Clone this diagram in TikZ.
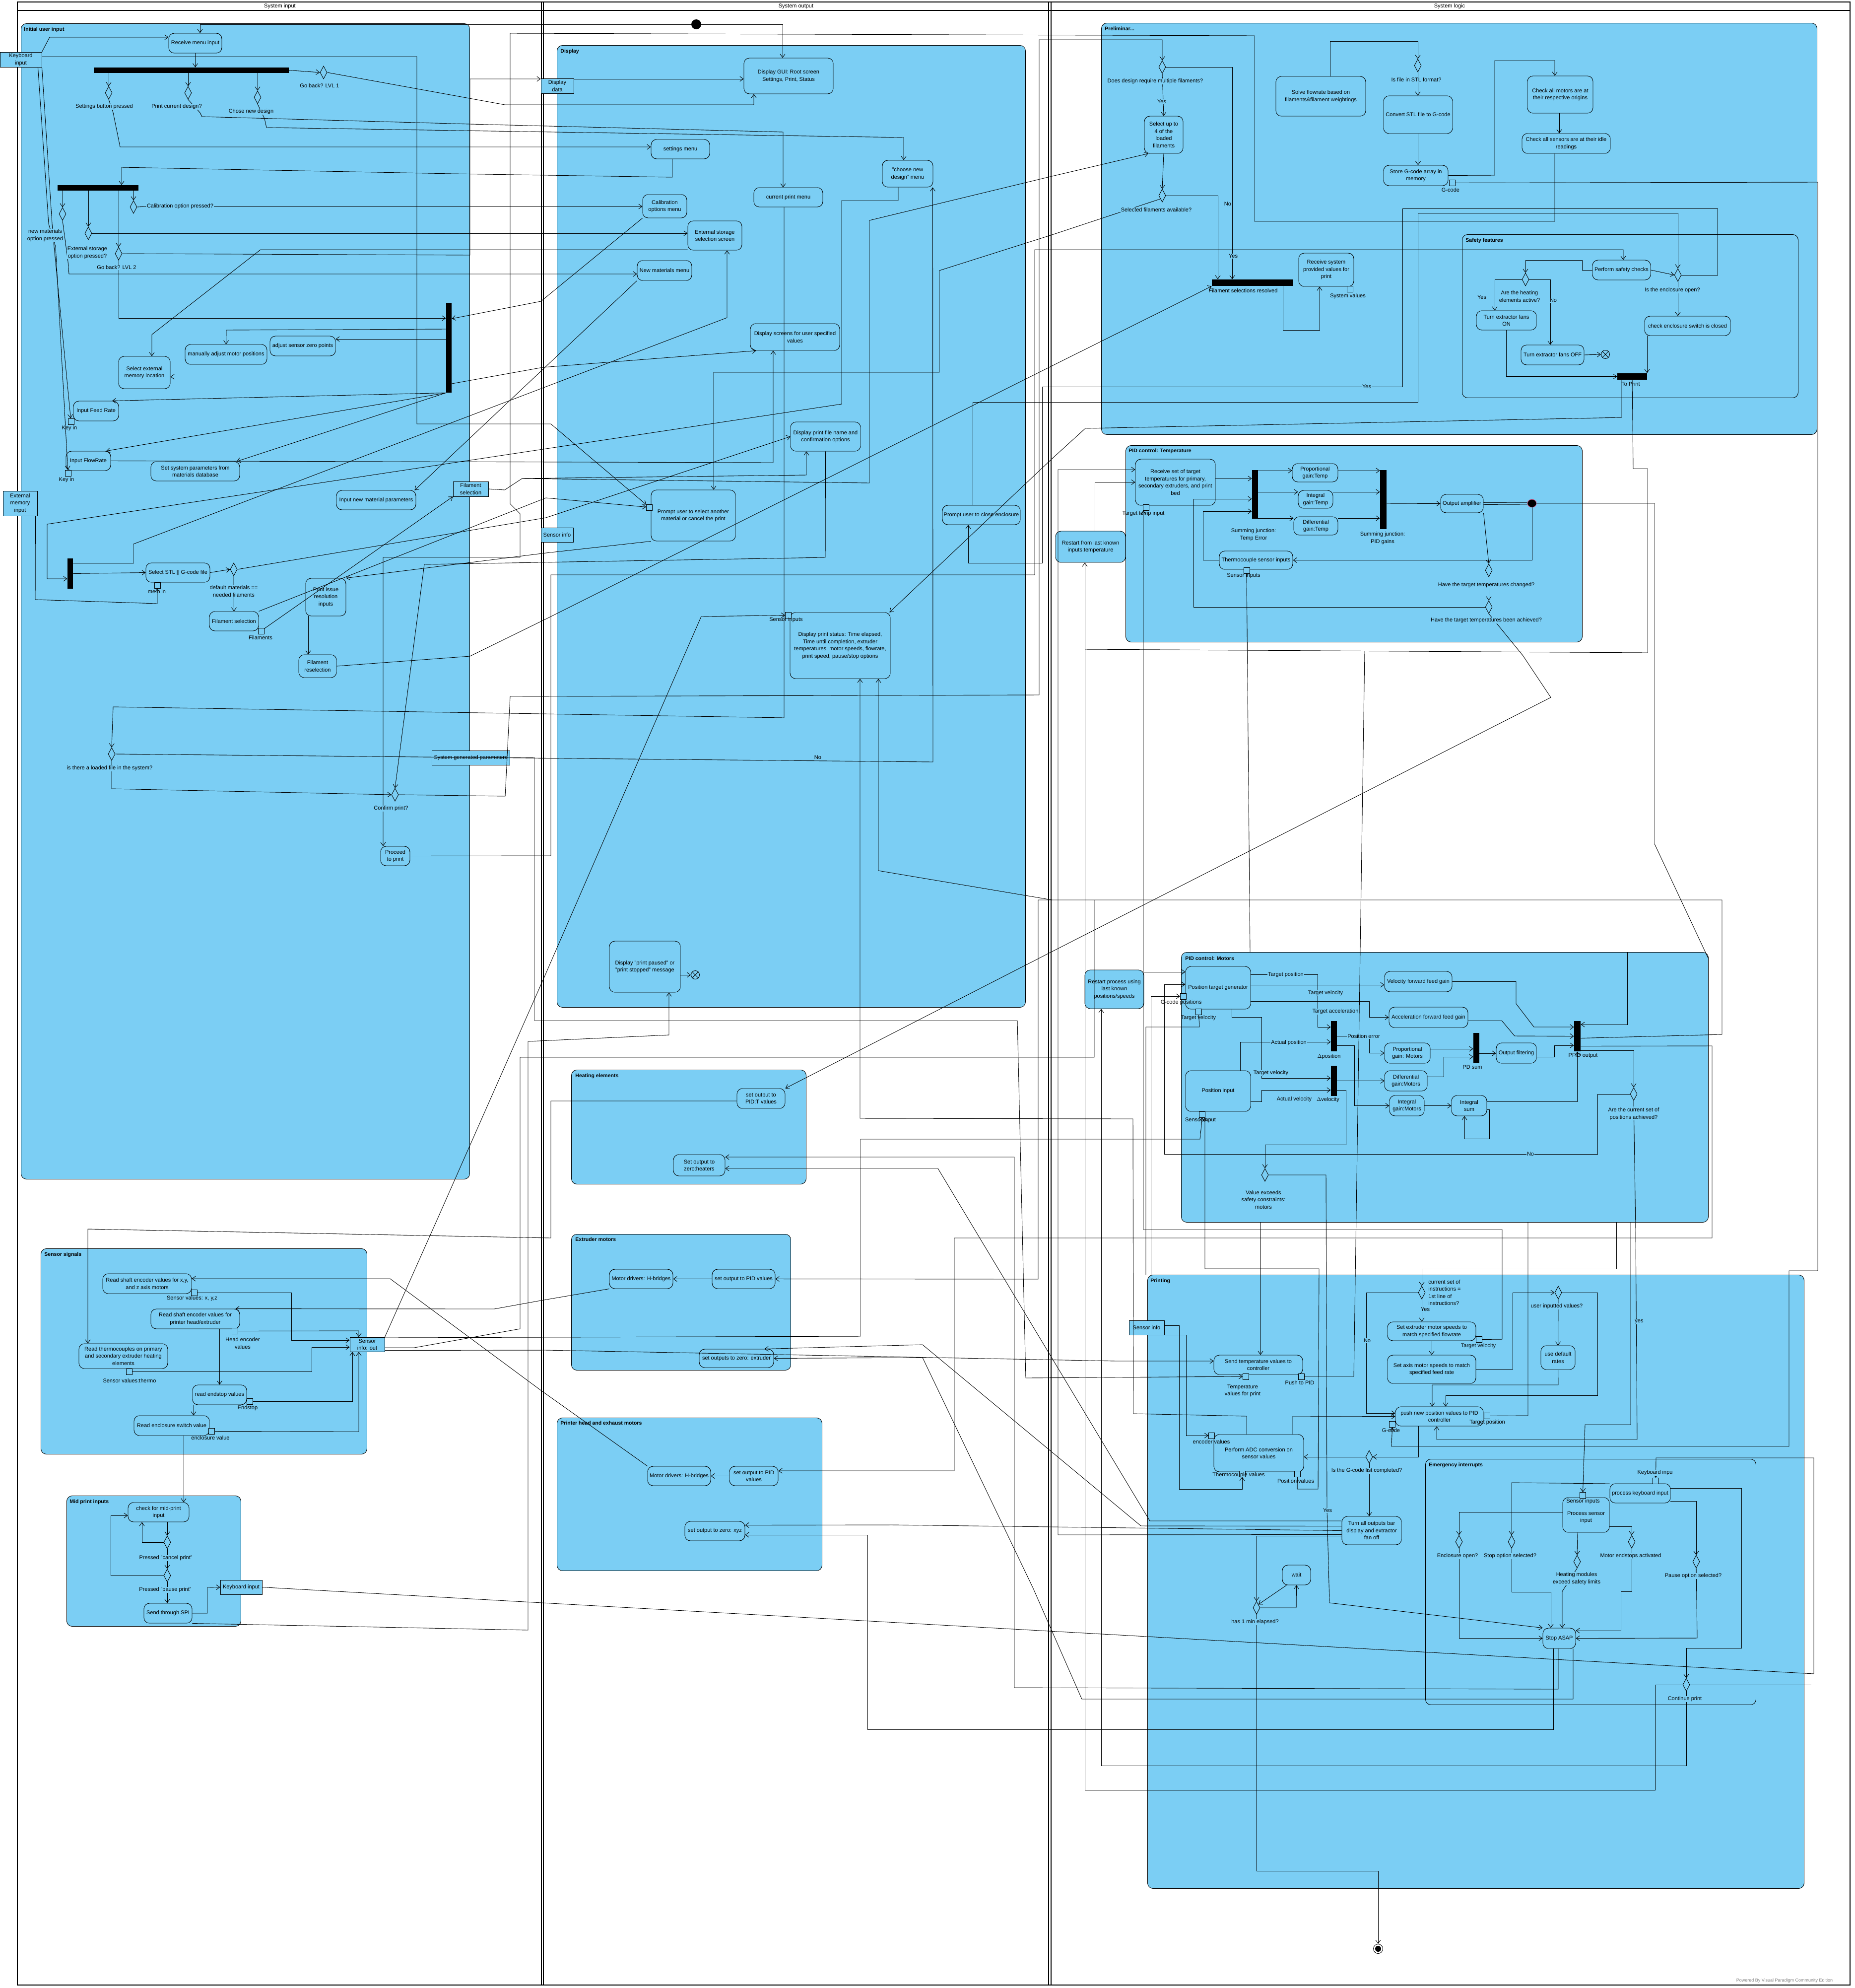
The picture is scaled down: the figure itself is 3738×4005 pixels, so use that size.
\documentclass[tikz,border=0pt]{standalone}
\usepackage{fontspec}
\setmainfont{Liberation Sans}
\usetikzlibrary{arrows.meta,positioning,shapes.geometric}
\definecolor{VPBlue}{HTML}{7BCEF4}
\pgfdeclarelayer{grp}
\pgfsetlayers{grp,main}

\begin{document}
\begin{tikzpicture}[
  x=1pt, y=-1pt,
  font=\fontsize{11}{14.5}\selectfont,
  every path/.style={line width=0.9pt},
  act/.style={draw, fill=VPBlue, rounded corners=11pt, align=center, inner sep=1pt},
  obj/.style={draw, fill=VPBlue, align=center, inner sep=1pt},
  grp/.style={draw, fill=VPBlue, rounded corners=11pt, inner sep=0pt, anchor=north west},
  grptitle/.style={anchor=north west, inner sep=1pt, font=\fontsize{10.5}{12}\selectfont\bfseries},
  bar/.style={fill=black, inner sep=0pt},
  dec/.style={draw, fill=VPBlue, diamond, inner sep=0pt, minimum width=14pt, minimum height=26pt},
  pinbox/.style={draw, fill=VPBlue, inner sep=0pt, minimum size=12pt},
  lbl/.style={inner sep=1pt, align=center},
  onl/.style={lbl, fill=VPBlue},
  flow/.style={-{Straight Barb[length=7pt,width=10pt]}},
]
\useasboundingbox (0,0) rectangle (3738,4005);

% swimlanes
\draw[line width=2.2pt] (35,4) rectangle (3728,3999);
\draw[line width=1.6pt] (35,21) -- (3728,21);
\foreach \lx in {1091,1095,2113,2118} \draw[line width=1.3pt] (\lx,4) -- (\lx,3999);
\node[lbl] (lanein) at (564,12.5) {System input};
\node[lbl] (laneout) at (1604,12.5) {System output};
\node[lbl] (lanelogic) at (2921,12.5) {System logic};

% groups
\begin{pgfonlayer}{grp}
\node[grp, minimum width=904pt, minimum height=2328pt] (ginit) at (42,47) {};
\node[grp, minimum width=657pt, minimum height=414pt] (gsens) at (82,2515) {};
\node[grp, minimum width=351pt, minimum height=263pt] (gmid) at (134,3013) {};
\node[grp, minimum width=944pt, minimum height=1938pt] (gdisp) at (1122,91) {};
\node[grp, minimum width=473pt, minimum height=230pt] (gheat) at (1151,2155) {};
\node[grp, minimum width=442pt, minimum height=274pt] (gext) at (1151,2486) {};
\node[grp, minimum width=534pt, minimum height=308pt] (ghead) at (1122,2856) {};
\node[grp, minimum width=1442pt, minimum height=829pt] (gprelim) at (2219,46) {};
\node[grp, minimum width=677pt, minimum height=329pt] (gsafe) at (2946,472) {};
\node[grp, minimum width=920pt, minimum height=396pt] (gpidt) at (2268,897) {};
\node[grp, minimum width=1062pt, minimum height=544pt] (gpidm) at (2380,1918) {};
\node[grp, minimum width=1323pt, minimum height=1236pt] (gprint) at (2312,2568) {};
\node[grp, minimum width=666pt, minimum height=495pt] (gemerg) at (2872,2939) {};
\end{pgfonlayer}
\node[grptitle] (tinit) at (47,53) {Initial user input};
\node[grptitle] (tsens) at (88,2521) {Sensor signals};
\node[grptitle] (tmid) at (139,3019) {Mid print inputs};
\node[grptitle] (tdisp) at (1128,97) {Display};
\node[grptitle] (theat) at (1158,2161) {Heating elements};
\node[grptitle] (text) at (1158,2491) {Extruder motors};
\node[grptitle] (thead) at (1128,2861) {Printer head  and exhaust motors};
\node[grptitle] (tprelim) at (2225,52) {Preliminar...};
\node[grptitle] (tsafe) at (2952,478) {Safety features};
\node[grptitle] (tpidt) at (2273,902) {PID control: Temperature};
\node[grptitle] (tpidm) at (2387,1925) {PID control: Motors};
\node[grptitle] (tprint) at (2317,2574) {Printing};
\node[grptitle] (temerg) at (2878,2945) {Emergency interrupts};

% ---------- System input ----------
\node[obj, minimum width=84pt, minimum height=30pt] (kbin) at (42,120) {Keyboard\\input};
\node[act, minimum width=107pt, minimum height=40pt] (recvmenu) at (393.5,87) {Receive menu input};
\node[bar, minimum width=393pt, minimum height=11pt] (fork1) at (385.5,141.5) {};
\node[dec] (dset) at (219,187) {};
\node[dec] (dprint) at (379,187) {};
\node[dec] (dnew) at (519,196) {};
\node[dec] (dback1) at (652,146) {};
\node[bar, minimum width=163pt, minimum height=11pt] (fork2) at (197.5,378.5) {};
\node[dec] (dnewmat) at (126,431) {};
\node[dec] (dext) at (178,470) {};
\node[dec] (dback2) at (239,511) {};
\node[dec] (dcal) at (269,417) {};
\node[lbl] (lcal) at (363,416) {Calibration option pressed?};
\node[bar, minimum width=11pt, minimum height=181pt] (fork3) at (904.5,700.5) {};
\node[act, minimum width=132pt, minimum height=40pt] (adjzero) at (610,697) {adjust sensor zero points};
\node[act, minimum width=165pt, minimum height=40pt] (manmotor) at (455.5,714) {manually adjust motor positions};
\node[act, minimum width=104pt, minimum height=65pt] (selextmem) at (291,750.5) {Select external\\memory location};
\node[act, minimum width=91pt, minimum height=40pt] (infeed) at (193.5,828) {Input Feed Rate};
\node[pinbox] (keyin1) at (143,849) {};
\node[lbl] (lkeyin1) at (140,863) {Key in};
\node[act, minimum width=90pt, minimum height=39pt] (inflow) at (178,928.5) {Input FlowRate};
\node[pinbox] (keyin2) at (137,953) {};
\node[lbl] (lkeyin2) at (134,967) {Key in};
\node[act, minimum width=179pt, minimum height=39pt] (setsys) at (393.5,949.5) {Set system parameters from\\materials database};
\node[act, minimum width=160pt, minimum height=39pt] (innewmat) at (758,1007.5) {Input new material parameters};
\node[obj, minimum width=71pt, minimum height=30pt] (filselobj) at (948.5,985) {Filament\\selection};
\node[obj, minimum width=69pt, minimum height=50pt] (extmemin) at (40.5,1014) {External\\memory\\input};
\node[bar, minimum width=11pt, minimum height=61pt] (fork4) at (141.5,1155.5) {};
\node[act, minimum width=129pt, minimum height=39pt] (selstl) at (358.5,1153.5) {Select STL || G-code file};
\node[pinbox] (memin) at (317,1179) {};
\node[lbl] (lmemin) at (316,1192) {mem in};
\node[dec] (ddefmat) at (471,1147) {};
\node[act, minimum width=99pt, minimum height=39pt] (filsel) at (471.5,1251.5) {Filament selection};
\node[pinbox] (pfil) at (526,1271) {};
\node[lbl] (lpfil) at (525,1285) {Filaments};
\node[act, minimum width=81pt, minimum height=76pt] (printissue) at (656.5,1203) {Print issue\\resolution\\inputs};
\node[act, minimum width=76pt, minimum height=46pt] (filresel) at (640,1342) {Filament\\reselection};
\node[dec] (dloaded) at (225,1519) {};
\node[obj, minimum width=157pt, minimum height=29pt] (sysgen) at (948.5,1526.5) {System generated parameters};
\node[dec] (dconfirm) at (796,1601) {};
\node[act, minimum width=59pt, minimum height=39pt] (proceed) at (796.5,1724.5) {Proceed\\to print};

\node[act, minimum width=179pt, minimum height=40pt] (rdxyz) at (296.5,2586) {Read shaft encoder values for x,y,\\and z axis motors};
\node[pinbox] (pxyz) at (391.5,2604) {};
\node[lbl] (lpxyz) at (387,2616) {Sensor values: x, y,z};
\node[act, minimum width=179pt, minimum height=40pt] (rdhead) at (393.5,2657) {Read shaft encoder values for\\printer head/extruder};
\node[pinbox] (phead) at (473,2681.5) {};
\node[lbl] (lphead) at (489,2706) {Head encoder\\values};
\node[act, minimum width=179pt, minimum height=50pt] (rdthermo) at (248.5,2732) {Read thermocouples on primary\\and secondary extruder heating\\elements};
\node[pinbox] (pthermo) at (260.5,2763) {};
\node[lbl] (lpthermo) at (261,2782) {Sensor values:thermo};
\node[act, minimum width=109pt, minimum height=40pt] (rdend) at (442.5,2810) {read endstop values};
\node[pinbox] (pend) at (503,2823) {};
\node[lbl] (lpend) at (499,2837) {Endstop};
\node[act, minimum width=152pt, minimum height=40pt] (rdencl) at (346,2872) {Read enclosure switch value};
\node[pinbox] (pencl) at (426.5,2883.5) {};
\node[lbl] (lpencl) at (424,2897) {enclosure value};
\node[obj, minimum width=70pt, minimum height=29pt] (sensout) at (740,2708.5) {Sensor\\info: out};

\node[act, minimum width=123pt, minimum height=39pt] (chkmid) at (319.5,3046.5) {check for mid-print\\input};
\node[dec] (dcancel) at (337,3107) {};
\node[dec] (dpause) at (337,3174) {};
\node[act, minimum width=97pt, minimum height=40pt] (sendspi) at (338.5,3250) {Send through SPI};
\node[obj, minimum width=84pt, minimum height=29pt] (kbmid) at (486,3197.5) {Keyboard input};

% ---------- System output ----------
\node[circle, fill=black, inner sep=0pt, minimum size=20pt] (init) at (1403,49) {};
\node[obj, minimum width=66pt, minimum height=30pt] (dispdata) at (1123,173) {Display\\data};
\node[act, minimum width=180pt, minimum height=72pt] (dispgui) at (1589,153) {Display GUI: Root screen\\Settings, Print, Status};
\node[act, minimum width=118pt, minimum height=39pt] (setmenu) at (1371,300.5) {settings menu};
\node[act, minimum width=102pt, minimum height=54pt] (choosemenu) at (1829,350) {"choose new\\design" menu};
\node[act, minimum width=139pt, minimum height=39pt] (curprint) at (1588.5,397.5) {current print menu};
\node[act, minimum width=89pt, minimum height=47pt] (calmenu) at (1339.5,415.5) {Calibration\\options menu};
\node[act, minimum width=109pt, minimum height=59pt] (extscreen) at (1440.5,474.5) {External storage\\selection screen};
\node[act, minimum width=110pt, minimum height=40pt] (newmatmenu) at (1339,545) {New materials menu};
\node[act, minimum width=180pt, minimum height=54pt] (dispuser) at (1602,679) {Display screens for user specified\\values};
\node[act, minimum width=141pt, minimum height=59pt] (dispfile) at (1663.5,879.5) {Display print file name and\\confirmation options};
\node[act, minimum width=170pt, minimum height=103pt] (prompt) at (1397,1038.5) {Prompt user to select another\\material or cancel the print};
\node[pinbox] (pprompt) at (1308.5,1022) {};
\node[obj, minimum width=65pt, minimum height=29pt] (sensinfo) at (1122.5,1077.5) {Sensor info};
\node[act, minimum width=157pt, minimum height=39pt] (promptencl) at (1977.5,1037.5) {Prompt user to close enclosure};
\node[act, minimum width=202pt, minimum height=133pt] (dispstatus) at (1693,1300.5) {Display print status: Time elapsed,\\Time until completion, extruder\\temperatures, motor speeds, flowrate,\\print speed, pause/stop options};
\node[pinbox] (psens) at (1588.5,1239.5) {};
\node[lbl] (lpsens) at (1584,1249) {Sensor inputs};
\node[act, minimum width=143pt, minimum height=103pt] (dispmsg) at (1299.5,1947.5) {Display "print paused" or\\"print stopped" message};
\node[circle, draw, fill=VPBlue, inner sep=0pt, minimum size=17pt] (ffin1) at (1401,1964) {};
\draw (ffin1.45) -- (ffin1.225) (ffin1.135) -- (ffin1.315);

\node[act, minimum width=97pt, minimum height=40pt] (heatpid) at (1533.5,2213) {set output to\\PID:T values};
\node[act, minimum width=104pt, minimum height=43pt] (heatzero) at (1409,2347.5) {Set output to\\zero:heaters};
\node[act, minimum width=128pt, minimum height=39pt] (extdrv) at (1292,2576.5) {Motor drivers: H-bridges};
\node[act, minimum width=127pt, minimum height=39pt] (extpid) at (1498.5,2576.5) {set output to PID values};
\node[act, minimum width=150pt, minimum height=37pt] (extzero) at (1484,2736.5) {set outputs to zero: extruder};
\node[act, minimum width=127pt, minimum height=39pt] (phdrv) at (1368.5,2973.5) {Motor drivers: H-bridges};
\node[act, minimum width=98pt, minimum height=39pt] (phpid) at (1519,2973.5) {set output to PID\\values};
\node[act, minimum width=121pt, minimum height=39pt] (phzero) at (1440.5,3084.5) {set output to zero: xyz};

% ---------- System logic ----------
\node[dec] (ddesign) at (2342,135) {};
\node[act, minimum width=78pt, minimum height=75pt] (selup4) at (2345,271.5) {Select up to\\4 of the\\loaded\\filaments};
\node[dec] (dselavail) at (2342,394) {};
\node[bar, minimum width=164pt, minimum height=13pt] (filresbar) at (2524,569.5) {};
\node[lbl] (lfilres) at (2505,586) {Filament selections resolved};
\node[act, minimum width=111pt, minimum height=67pt] (recvsys) at (2672.5,543.5) {Receive system\\provided values for\\print};
\node[pinbox] (psysval) at (2720.5,582.5) {};
\node[lbl] (lpsysval) at (2716,597) {System values};
\node[act, minimum width=181pt, minimum height=80pt] (solveflow) at (2661.5,194) {Solve flowrate based on\\filaments\&filament weightings};
\node[dec] (dstl) at (2857,132) {};
\node[act, minimum width=139pt, minimum height=76pt] (convstl) at (2857.5,231) {Convert STL file to G-code};
\node[act, minimum width=130pt, minimum height=41pt] (storeg) at (2853,353.5) {Store G-code array in\\memory};
\node[pinbox] (pgcode) at (2926,368.5) {};
\node[lbl] (lpgcode) at (2923,383) {G-code};
\node[act, minimum width=132pt, minimum height=75pt] (chkmot) at (3144,190.5) {Check all motors are at\\their respective origins};
\node[act, minimum width=178pt, minimum height=40pt] (chksens) at (3156,289) {Check all sensors are at their idle\\readings};
\node[act, minimum width=117pt, minimum height=40pt] (perfsafe) at (3267.5,544) {Perform safety checks};
\node[dec] (dencl) at (3381,554) {};
\node[act, minimum width=173pt, minimum height=39pt] (chkencl) at (3400.5,656.5) {check enclosure switch is closed};
\node[dec] (dheat) at (3074,563) {};
\node[lbl] (ldheat) at (3062,597) {Are the heating\\elements active?};
\node[lbl] (lheatyes) at (2986,599) {Yes};
\node[act, minimum width=121pt, minimum height=39pt] (fanon) at (3035.5,645.5) {Turn extractor fans\\ON};
\node[act, minimum width=127pt, minimum height=40pt] (fanoff) at (3128.5,715) {Turn extractor fans OFF};
\node[circle, draw, fill=VPBlue, inner sep=0pt, minimum size=17pt] (ffin2) at (3235,714) {};
\draw (ffin2.45) -- (ffin2.225) (ffin2.135) -- (ffin2.315);
\node[bar, minimum width=60pt, minimum height=13pt] (toprint) at (3289,758.5) {};
\node[lbl] (ltoprint) at (3286,774) {To Print};

\node[act, minimum width=161pt, minimum height=93pt] (recvtemp) at (2368.5,971.5) {Receive set of target\\temperatures for primary,\\secondary extruders, and print\\bed};
\node[pinbox] (ptemp) at (2309,1022) {};
\node[lbl] (lptemp) at (2304,1035) {Target temp input};
\node[bar, minimum width=12pt, minimum height=98pt] (sumbar1) at (2529,996) {};
\node[lbl] (lsum1) at (2526,1077) {Summing junction:\\Temp Error};
\node[act, minimum width=92pt, minimum height=37pt] (propT) at (2650,952.5) {Proportional\\gain:Temp};
\node[act, minimum width=70pt, minimum height=36pt] (intT) at (2651,1006) {Integral\\gain:Temp};
\node[act, minimum width=89pt, minimum height=37pt] (diffT) at (2651.5,1059.5) {Differential\\gain:Temp};
\node[bar, minimum width=13pt, minimum height=119pt] (sumbar2) at (2787.5,1006.5) {};
\node[lbl] (lsum2) at (2786,1084) {Summing junction:\\PID gains};
\node[act, minimum width=86pt, minimum height=37pt] (outamp) at (2946,1014.5) {Output amplifier};
\node[ellipse, fill=black, draw=purple!70, inner sep=0pt, minimum width=18pt, minimum height=16pt] (tdot) at (3087,1014) {};
\node[act, minimum width=148pt, minimum height=37pt] (thermoin) at (2531,1128.5) {Thermocouple sensor inputs};
\node[pinbox] (pthin) at (2512,1149) {};
\node[lbl] (lpthin) at (2506,1160) {Sensor inputs};
\node[dec] (dtchg) at (3000,1149) {};
\node[dec] (dtach) at (3000,1223) {};
\node[act, minimum width=141pt, minimum height=63pt] (restT) at (2197.5,1101.5) {Restart from last known\\inputs:temperature};

\node[act, minimum width=119pt, minimum height=78pt] (restM) at (2245.5,1993) {Restart process using\\last known\\positions/speeds};
\node[act, minimum width=131pt, minimum height=86pt] (posgen) at (2454.5,1990) {Position target generator};
\node[pinbox] (pgcpos) at (2384.5,2007) {};
\node[lbl] (lpgcpos) at (2380,2020) {G-code positions};
\node[pinbox] (ptv) at (2415.5,2038.5) {};
\node[lbl] (lptv) at (2415,2051) {Target velocity};
\node[act, minimum width=136pt, minimum height=41pt] (velff) at (2858,1977.5) {Velocity forward feed gain};
\node[act, minimum width=159pt, minimum height=41pt] (accff) at (2878.5,2049.5) {Acceleration forward feed gain};
\node[bar, minimum width=12pt, minimum height=61pt] (dposbar) at (2688,2087.5) {};
\node[lbl] (ldposbar) at (2678,2129) {$\Delta$position};
\node[bar, minimum width=12pt, minimum height=61pt] (dvelbar) at (2688,2177.5) {};
\node[lbl] (ldvelbar) at (2676,2216) {$\Delta$velocity};
\node[act, minimum width=92pt, minimum height=41pt] (propM) at (2836,2121.5) {Proportional\\gain: Motors};
\node[act, minimum width=86pt, minimum height=41pt] (diffM) at (2833,2177.5) {Differential\\gain:Motors};
\node[act, minimum width=70pt, minimum height=41pt] (intM) at (2835,2227.5) {Integral\\gain:Motors};
\node[act, minimum width=71pt, minimum height=41pt] (intsum) at (2960.5,2227.5) {Integral\\sum};
\node[bar, minimum width=12pt, minimum height=61pt] (pdbar) at (2975,2111.5) {};
\node[lbl] (lpdbar) at (2967,2150) {PD sum};
\node[act, minimum width=81pt, minimum height=41pt] (outfilt) at (3055.5,2121.5) {Output filtering};
\node[bar, minimum width=13pt, minimum height=61pt] (pfidbar) at (3178.5,2087.5) {};
\node[lbl] (lpfid) at (3190,2127) {PFID output};
\node[dec] (dposach) at (3292,2204) {};
\node[act, minimum width=131pt, minimum height=82pt] (posin) at (2454.5,2198) {Position input};
\node[pinbox] (psensin) at (2422.5,2245) {};
\node[lbl] (lpsensin) at (2419,2257) {Sensor input};
\node[dec] (dsafe) at (2549,2367) {};
\node[lbl] (ldsafe) at (2546,2417) {Value exceeds\\safety constraints:\\motors};
\node[lbl] (lactvel) at (2608,2215) {Actual velocity};

\node[obj, minimum width=71pt, minimum height=29pt] (sensinfo2) at (2310.5,2674.5) {Sensor info};
\node[dec] (dfirst) at (2865,2604) {};
\node[lbl, align=left, anchor=west] (ldfirst) at (2877,2604) {current set of\\instructions =\\1st line of\\instructions?};
\node[act, minimum width=178pt, minimum height=38pt] (setext) at (2885,2682) {Set extruder motor speeds to\\match specified flowrate};
\node[pinbox] (ptvel) at (2980,2698.5) {};
\node[lbl] (lptvel) at (2979,2712) {Target velocity};
\node[act, minimum width=178pt, minimum height=57pt] (setaxis) at (2885,2758.5) {Set axis motor speeds to match\\specified feed rate};
\node[dec] (duser) at (3140,2604) {};
\node[act, minimum width=69pt, minimum height=48pt] (usedef) at (3139.5,2735) {use default\\rates};
\node[act, minimum width=177pt, minimum height=39pt] (pushpos) at (2900.5,2853.5) {push new position values to PID\\controller};
\node[pinbox] (pgc2) at (2805.5,2869) {};
\node[lbl] (lpgc2) at (2803,2882) {G-code};
\node[pinbox] (ptpos) at (2996.5,2852.5) {};
\node[lbl] (lptpos) at (2997,2866) {Target position};
\node[act, minimum width=179pt, minimum height=39pt] (sendtemp) at (2535.5,2749.5) {Send temperature values to\\controller};
\node[pinbox] (ptv4p) at (2510.5,2773) {};
\node[lbl] (lptv4p) at (2504,2802) {Temperature\\values for print};
\node[pinbox] (ppush) at (2622,2773) {};
\node[lbl] (lppush) at (2619,2786) {Push to PID};
\node[act, minimum width=181pt, minimum height=75pt] (adc) at (2536.5,2927.5) {Perform ADC conversion on\\sensor values};
\node[pinbox] (penc) at (2441.5,2892) {};
\node[lbl] (lpenc) at (2441,2905) {encoder values};
\node[pinbox] (pthc) at (2503,2969) {};
\node[pinbox] (ppos) at (2614.5,2969.5) {};
\node[lbl] (lppos) at (2611,2984) {Position values};
\node[dec] (dgdone) at (2759,2935) {};
\node[act, minimum width=120pt, minimum height=57pt] (turnoff) at (2764,3083.5) {Turn all outputs bar\\display and extractor\\fan off};
\node[act, minimum width=57pt, minimum height=40pt] (wait) at (2612.5,3173) {wait};
\node[dec] (delapsed) at (2532,3239) {};

\node[act, minimum width=122pt, minimum height=39pt] (prockb) at (3305,3008.5) {process keyboard input};
\node[pinbox] (pkb) at (3336.5,2983.5) {};
\node[act, minimum width=94pt, minimum height=70pt, text depth=0pt] (procsens) at (3196,3052) {\\Process sensor\\input};
\node[pinbox] (psi) at (3189.5,3012.5) {};
\node[lbl] (lpsi) at (3190,3025) {Sensor inputs};
\node[dec] (dencop) at (2940,3106) {};
\node[dec] (dstop) at (3046,3106) {};
\node[dec] (dheatlim) at (3178,3146) {};
\node[dec] (dendst) at (3288,3106) {};
\node[dec] (dpauseopt) at (3418,3146) {};
\node[act, minimum width=66pt, minimum height=41pt] (stopasap) at (3142,3300.5) {Stop ASAP};
\node[dec] (dcont) at (3398,3394) {};
\node[circle, draw, inner sep=0pt, minimum size=19pt] (final) at (2777,3926) {};
\node[circle, fill=black, inner sep=0pt, minimum size=12pt] (finaldot) at (final.center) {};
\node[lbl, text=gray, font=\fontsize{9}{10}\selectfont] (powered) at (3596,3990) {Powered By Visual Paradigm Community Edition};

\coordinate (jfil) at (1052,964);
\coordinate (jpfid) at (2120,1813);
\coordinate (jtemp) at (2186,1308);
\coordinate (jsens) at (2205,1813);
\coordinate (jpush) at (2750,1312);
\coordinate (ctpos) at (3079,2462);
\coordinate (csi) at (3286,2462);
\coordinate (cfirst) at (3257,2462);
\coordinate (cgc) at (2319,2568);
\coordinate (ctv) at (2309,2568);
\coordinate (cthin) at (2519,1918);
\coordinate (cthin2) at (2540,2462);
\coordinate (cdot) at (3442,1930);

% ---------- connectors: system input ----------
\draw[flow] (init.west) -| ([xshift=9.5pt]recvmenu.north);
\draw[flow] (kbin.north east) -- (100,75) -- ([yshift=12pt]recvmenu.west);
\draw[flow] (recvmenu.south) -- (recvmenu.south |- fork1.north);
\foreach \d in {dset,dprint,dnew} \draw[flow] (fork1.south -| \d.north) -- (\d.north);
\draw[flow] (fork1.east) -- (dback1.west);
\draw[flow] (dback1.east) -- (1017,211) -| ([xshift=-70pt]dispgui.south);
\draw[flow] (dset.south) -- (228,227) -- (242,296) -- ([yshift=4.5pt]setmenu.west);
\draw[flow] (dprint.south) -- (403,227) -- (407,235) -- (947,250) -- (1578,266) -- ([xshift=-10.5pt]curprint.north);
\draw[flow] (dnew.south) -- (533,239) -- (537,257) -- (1821,277) -- ([xshift=-8pt]choosemenu.north);
\draw[flow] ([xshift=-16pt]setmenu.south) -- (1355,357) -- (912,350) -- (245,337) -- ([xshift=47.5pt]fork2.north);
\foreach \d in {dnewmat,dext,dback2,dcal} \draw[flow] (fork2.south -| \d.north) -- (\d.north);
\draw (dcal.east) -- (lcal.west);
\draw[flow] (lcal.east) -- (calmenu.west |- lcal.east);
\draw[flow] (dext.east) -- ([yshift=4.5pt]extscreen.west);
\draw[flow] (dnewmat.south) -- (137,527) -- (139,552) -- ([yshift=-7pt]newmatmenu.west);
\draw[flow] (dback2.east) -- (947,514) |- ([yshift=14pt]dispdata.west);
\draw[flow] (dback2.south) |- ([yshift=59.5pt]fork3.west);
\draw[flow] ([yshift=17.5pt]fork3.west) -- ([yshift=14pt]adjzero.east);
\draw[flow] ([yshift=37.5pt]fork3.west) -- (456,665) -- (manmotor.north);
\draw[flow] ([yshift=-58.5pt]fork3.west) -- ([yshift=-8.5pt]selextmem.east);
\draw[flow] (fork3.south west) -- ([xshift=32.5pt]infeed.north);
\draw[flow] (fork3.south west) -- ([xshift=36pt]inflow.north);
\draw[flow] (fork3.south west) -- ([xshift=83.5pt]setsys.north);
\draw[flow] ([yshift=-72.5pt]fork3.east) -- (1094,740) -- ([xshift=12pt]dispuser.south west);
\draw[flow] (inflow.east) -- (1558,932) -- ([xshift=-44pt]dispuser.south);
\draw[flow] (calmenu.south west) -- (1090,607) -- ([yshift=58.5pt]fork3.east);
\draw[flow] (newmatmenu.south west) -- ([xshift=-3pt]innewmat.north east);
\draw[flow] ([yshift=-28.5pt]extscreen.west) -- (525,503) -- (306,674) -- ([xshift=15pt]selextmem.north);
\draw[flow] ([yshift=6pt]kbin.east) -- (840,114) -- (840,854) -- (1110,854) -- (pprompt);
\draw[flow] (kbin.south east) -- (105,451) -- (109,497) -- (keyin1);
\draw[flow] ([xshift=-8pt]kbin.south east) -- (98,451) -- (112,497) -- (keyin2);
\draw[flow] ([xshift=-4pt]extmemin.south east) -- (71,1208) -- (317,1216) -- (memin.south);
\draw[flow] ([xshift=-19pt]choosemenu.south) -- (1810,404) -- (1696,404) -- (1696,814) -- (95,1056) -- (95,1166) -- ([yshift=-10.5pt]fork4.west);
\draw[flow] (fork4.east) -- (selstl.west);
\draw[flow] ([yshift=20.5pt]fork4.east) -- (269,1135) -- (269,1096) -- (1465,640) -- ([xshift=24.5pt]extscreen.south);
\draw[flow] (selstl.east) -- (ddefmat.west);
\draw[flow] (ddefmat.south) -- (filsel.north);
\draw[flow] (ddefmat.east) -- (1100,1043) -- (dispfile.west);
\draw[flow] (pfil) -- (filselobj.south west);
\draw[flow] (filselobj.east) -- (1017,987) -- (jfil) -- (1752,973) -- (1752,444) -- (2120,355) -- ([xshift=8pt]selup4.south west);
\draw[flow] (jfil) -- (1625,957) -- ([xshift=-38.5pt]dispfile.south);
\draw[flow] (dispfile.south) -- (1663,1123) -- (855,1137) -- (dconfirm.north);
\draw[flow] (prompt.south west) -- (1100,1114) -- (printissue.north east);
\draw[flow] (filsel.north east) -- (1100,1003) -- (pprompt);
\draw[flow] ([xshift=-35.5pt]printissue.south) -- ([xshift=-19pt]filresel.north);
\draw[flow] (filresel.east) -- (947,1322) -- (1100,1247) -- (2120,737) -- (2407,594) -- (filresbar.south west);
\draw[flow] (sensout.north east) -- (884,2450) -- (1100,1961) -- (1344,1400) -- (1413,1242) -- (psens.west);
\draw[flow] ([xshift=-8.5pt]curprint.south) -- (1580,1446) -- (1090,1438) -- (228,1424) -- (dloaded.north);
\draw[flow] (dloaded.east) -- (1880,1535) -- ([xshift=-1pt]choosemenu.south east);
\draw[flow] (dloaded.south) -- (225,1589) -- (dconfirm.west);
\draw[flow] (dconfirm.east) -- (1018,1604) -- (1028,1403) -- (2094,1400) -- (2094,80) -- (2342,80) -- (ddesign.north);
\draw[flow] (proceed.east) -- (1110,1724) -- (1110,1158) -- (2085,1158) -- (2085,503) -- (3271,503) -- ([xshift=3.5pt]perfsafe.north);
\draw[flow] ([xshift=-23pt]chksens.south) -- (3133,446) -- (2528,446) -- (2528,72) -- (1028,67) -- (1028,1015) -- (1048,1035) -- (1048,1123) -- (772,1123) -- ([xshift=-24.5pt]proceed.north);
\draw[flow] (sysgen.east) -- (1077,1526) -- (1077,2056) -- (2050,2056) -- (2067,2776) -- (ptv4p.west);

% sensor signals and mid print
\draw[flow] ([yshift=-5pt]heatpid.west) -- (1110,2218) -- (1110,2494) -- (177,2476) -- ([xshift=-71.5pt]rdthermo.north);
\draw[flow] (phdrv.north west) -- (1090,2801) -- (786,2576) -- ([yshift=10pt]rdxyz.east);
\draw[flow] (extdrv.south west) -- (1090,2620) -- (996,2637) -- ([xshift=-9pt]rdhead.north east);
\draw[flow] (pxyz.east) -- (587,2604) -- (587,2700) -- ([yshift=8.5pt]sensout.west);
\draw[flow] (phead.east) -- (723,2681) -- ([xshift=-17pt]sensout.north);
\draw[flow] (rdhead.south -| rdend.north) -- (rdend.north);
\draw[flow] (pthermo.east) -- (628,2763) -- (628,2714) -- ([yshift=-5.5pt]sensout.west);
\draw[flow] (pend.east) -- (710,2823) -- ([xshift=-30pt]sensout.south);
\draw[flow] ([xshift=-52.5pt]rdend.south) -- ([xshift=44pt]rdencl.north);
\draw[flow] (pencl.east) -- (723,2884) -- ([xshift=-17pt]sensout.south);
\draw[flow] ([xshift=24pt]rdencl.south) -- ([xshift=50.5pt]chkmid.north);
\draw[flow] ([yshift=13.5pt]sensout.east) -- (1734,2692) -- (1734,2295) -- (2418,2295) -- (psensin.south);
\draw ([yshift=-6.5pt]sensout.east) -- (835,2715) -- (1048,2677) -- (1048,2130) -- (2205,2130) -- (jsens);
\draw[flow] ([yshift=-12pt]sensout.east) -- (1100,2720) -- (2250,2742) -- ([yshift=7.5pt]sendtemp.west);
\draw[flow] (chkmid.south -| dcancel.north) -- (dcancel.north);
\draw[flow] (dcancel.west) -- (286,3107) -- ([xshift=-33.5pt]chkmid.south);
\draw[flow] (dcancel.south) -- (dpause.north);
\draw[flow] (dpause.west) -- (223,3174) -- (223,3053) -- ([yshift=-6.5pt]chkmid.west);
\draw[flow] (dpause.south) -- ([xshift=-1.5pt]sendspi.north);
\draw[flow] (sendspi.east) -- (418,3250) -- (418,3198) -- (kbmid.west);
\draw[flow] (kbmid.east) -- (3655,3372) -- (3655,2937) -- (3337,2937) -- (pkb.north);
\draw[flow] (sendspi.south east) -- (1064,3284) -- (1064,2098) -- (1348,2085) -- ([xshift=48.5pt]dispmsg.south);

% ---------- connectors: system output ----------
\draw[flow] (init.east) -| ([xshift=-12pt]dispgui.north);
\draw[flow] ([yshift=14pt]dispdata.east) -- ([yshift=-6pt]dispgui.west);
\draw[flow] (dispmsg.east |- ffin1.west) -- (ffin1.west);
\draw[flow] (extpid.west) -- (extdrv.east);
\draw[flow] (phpid.west) -- (phdrv.east);
\draw[flow] ([xshift=-24.5pt]adc.north) -- (2512,2853) -- (2284,2848) -- (2283,2254) -- (1733,2253) -- ([xshift=40pt]dispstatus.south);
\draw[flow] ([xshift=-21pt]toprint.south) -- (3268,841) -- (2187,863) -- (2120,924) -- ([xshift=-2pt]dispstatus.north east);
\draw[flow] ([yshift=-4pt]pfidbar.east) -- (3470,2084) -- (3470,1813) -- (jpfid) -- (2092,1813) -- (2092,2577) -- (extpid.east);
\draw[flow] (jpfid) -- (1770,1754) -- ([xshift=77pt]dispstatus.south);
\draw[flow] ([yshift=-20pt]pfidbar.east) -- (3450,2107) -- (3450,2494) -- (1923,2494) -- (1923,2963) -- ([yshift=10.5pt]phpid.east);
\draw[flow] (dtach.south) -- (3069,1321) -- (3125,1405) -- (2120,1917) -- (heatpid.north east);
\draw (tdot.east) -- (3334,1014) -- (3334,1700) -- (cdot);
\draw[flow] ([yshift=19.5pt]turnoff.west) -- (2317,3064) -- (1890,2354) -- ([yshift=-6.5pt]heatzero.east);
\draw[flow] ([yshift=9pt]turnoff.west) -- (2299,3074) -- (1859,2709) -- ([xshift=-19pt]extzero.north east);
\draw[flow] (turnoff.west) -- (2120,3076) -- (1798,3072) -- ([yshift=12pt]phzero.east);
\draw[flow] ([xshift=-2pt]stopasap.south) -- (3140,3403) -- (2044,3400) -- (2044,2331) -- ([yshift=16.5pt]heatzero.east);
\draw[flow] ([xshift=28pt]stopasap.south) -- (3170,3423) -- (2180,3423) -- (2082,3200) -- (1859,2735) -- (extzero.east);
\draw[flow] ([xshift=-12pt]stopasap.south) -- (3130,3484) -- (1748,3484) -- (1748,3092) -- ([yshift=-7.5pt]phzero.east);

% ---------- connectors: system logic ----------
\draw[flow] (ddesign.south) -- (selup4.north);
\draw[flow] (ddesign.east) -- (2483,135) -- ([xshift=-41pt]filresbar.north);
\draw[flow] (selup4.south) -- (dselavail.north);
\draw[flow] (dselavail.east) -- (2454,394) -- ([xshift=-70pt]filresbar.north);
\draw[flow] (dselavail.south west) -- (2120,473) -- (1893,545) -- (1893,750) -- (1438,750) -- ([xshift=41pt]prompt.north);
\draw[flow] ([xshift=18.5pt]solveflow.north) -- (2680,83) -- (2857,83) -- (dstl.north);
\draw[flow] (dstl.south) -- (dstl.south |- convstl.north);
\draw[flow] (convstl.south) -- (convstl.south |- storeg.north);
\draw[flow] (storeg.east) -- (3012,353) -- (3012,122) -- (3133,122) -- ([xshift=-11pt]chkmot.north);
\draw[flow] ([xshift=-2pt]chkmot.south) -- ([xshift=-14pt]chksens.north);
\draw[flow] (pgcode.east) -- (3663,367) -- (3663,2560) -- (3605,2560) -- (3605,2914) -- (2804,2914) -- (pgc2.south);
\draw[flow] ([xshift=61pt]filresbar.south) -- (2585,665) -- (2659,665) -- ([xshift=-13.5pt]recvsys.south);
\draw[flow] (perfsafe.west) -- (3188,544) -- (3188,524) -- (3074,524) -- (dheat.north);
\draw[flow] (perfsafe.east) -- (dencl.west);
\draw[flow] (dheat.west) -- (3012,563) -- ([xshift=-23.5pt]fanon.north);
\draw[flow] (dheat.east) -- (3124,563) -- ([xshift=-4.5pt]fanoff.north);
\draw[flow] (fanoff.east) -- (ffin2.west);
\draw[flow] (fanon.south) |- (toprint.west);
\draw[flow] (dencl.south) -- ([xshift=-19.5pt]chkencl.north);
\draw[flow] ([xshift=-81.5pt]chkencl.south) -- ([xshift=30pt]toprint.north);
\draw[flow] (dencl.east) -- (3461,554) -- (3461,420) -- (2826,420) -- (2826,779) -- (2100,779) -- (2100,1134) -- (1951,1134) -- ([xshift=-26.5pt]promptencl.south);
\draw[flow] ([xshift=-17.5pt]promptencl.north) -- (1960,810) -- (2857,810) -- (2857,429) -- (3381,429) -- (dencl.north);
\draw (toprint.south) -- (3291,944) -- (3320,944) -- (3320,1315) -- (jtemp);

% PID temperature
\draw[flow] ([xshift=8.5pt]restT.north) |- (recvtemp.west);
\draw[flow] ([yshift=-8pt]turnoff.west) -- (2132,3092) -- (2132,946) -- ([yshift=25.5pt]recvtemp.west);
\draw[flow] ([yshift=7.5pt]recvtemp.east) -- ([yshift=32pt]sumbar1.west);
\draw[flow] (dtach.west) -- (2405,1223) -- (2405,1005) -- ([yshift=-9pt]sumbar1.west);
\draw[flow] (thermoin.west) -- (2424,1128.5) -- (2424,1030) -- ([yshift=-34pt]sumbar1.west);
\draw[flow] ([yshift=48pt]sumbar1.east) -- ([yshift=4.5pt]propT.west);
\draw[flow] ([yshift=5pt]sumbar1.east) -- ([yshift=15pt]intT.west);
\draw[flow] ([yshift=-48pt]sumbar1.east) -- ([yshift=15.5pt]diffT.west);
\draw[flow] ([yshift=4.5pt]propT.east) -- ([yshift=58.5pt]sumbar2.west);
\draw[flow] ([yshift=15pt]intT.east) -- ([yshift=15.5pt]sumbar2.west);
\draw[flow] ([yshift=15.5pt]diffT.east) -- ([yshift=-37.5pt]sumbar2.west);
\draw[flow] ([yshift=-7.5pt]sumbar2.east) -- (outamp.west);
\draw[double=VPBlue, double distance=3pt] (outamp.east) -- (tdot.west);
\draw[flow] (tdot.south) |- (thermoin.east);
\draw[flow] (outamp.south east) -- (dtchg.north);
\draw[flow] (dtchg.south) -- (dtach.north);
\draw (pthin.south) -- (cthin);
\draw[flow] (cthin2) -- (2540,2500) -- ([xshift=4.5pt]sendtemp.north);

% PID motors
\draw[flow] ([yshift=35pt]restM.east) -- ([yshift=32pt]posgen.west);
\draw[flow] (dposach.west) -- (3219,2204) -- (3219,2325) -- (2346,2325) -- (2346,1983) -- ([yshift=7pt]posgen.west);
\draw[flow] (cgc) -- (2319,2007) -- (pgcpos.west);
\draw (ptv.south) -- (2417,2069) -- (2309,2069) -- (ctv);
\draw[flow] ([yshift=6pt]posgen.east) -- ([yshift=-6.5pt]velff.west);
\draw[flow] ([yshift=-27pt]posgen.east) -- (2759,2017) |- (accff.west);
\draw[flow] ([yshift=27pt]posgen.east) -- (2655,1963) -- (2655,2069) -- ([yshift=18.5pt]dposbar.west);
\draw[flow] ([xshift=27.5pt]posgen.south) -- (2482,2049) -- (2542,2049) -- (2542,2172) -- ([yshift=5.5pt]dvelbar.west);
\draw[flow] ([xshift=44.5pt]posin.north) -- (2499,2099) -- ([yshift=-11.5pt]dposbar.west);
\draw[flow] ([yshift=-21pt]posin.east) -- (2542,2219) -- (2542,2196) -- ([yshift=-18.5pt]dvelbar.west);
\draw[flow] (dposbar.east) -- (2759,2087.5) |- (propM.west);
\draw[flow] ([yshift=-18.5pt]dposbar.east) -- (2729,2106) |- (intM.west);
\draw[flow] (dvelbar.east) -- (diffM.west);
\draw[flow] ([yshift=8.5pt]propM.east) -- ([yshift=-1.5pt]pdbar.west);
\draw[flow] ([yshift=8.5pt]diffM.east) -- (2909,2169) -- (2909,2129) -- ([yshift=-17.5pt]pdbar.west);
\draw[flow] ([yshift=-10.5pt]pdbar.east) -- ([yshift=-0.5pt]outfilt.west);
\draw[flow] ([yshift=-7.5pt]outfilt.east) -- (3132,2129) -- (3132,2106) -- ([yshift=-18.5pt]pfidbar.west);
\draw[flow] (intM.east) -- (intsum.west);
\draw[flow] ([yshift=8.5pt]intsum.east) -| (pfidbar.south);
\draw[flow] ([yshift=-7.5pt]intsum.east) -- (3001,2235) -- (3001,2294) -- (2951,2294) -- ([xshift=-9.5pt]intsum.south);
\draw[flow] (velff.east) -- (3055,1977.5) -- (3055,2022) -- (3091,2069) -- ([yshift=18.5pt]pfidbar.west);
\draw[flow] ([yshift=-6.5pt]accff.east) -- (3026,2056) -- (3052,2087) -- (pfidbar.west);
\draw[flow] ([yshift=-28.5pt]pfidbar.east) -- (3292,2116) -- (dposach.north);
\draw[flow] (3279,1918) -- (3279,2064) -- ([yshift=23.5pt]pfidbar.east);
\draw[flow] ([yshift=-18.5pt]dvelbar.east) -- (2712,2196) -- (2712,2306) -- (2549,2306) -- (dsafe.north);

% printing
\draw[flow] (dposach.south) -- (3296,2480) -- (3299,2900) -- (2895,2900) -- ([xshift=-5.5pt]pushpos.south);
\draw[flow] (cfirst) -- (3257,2556) -- (2865,2556) -- (dfirst.north);
\draw[flow] (dfirst.south) -- ([xshift=-20pt]setext.north);
\draw[flow] (dfirst.west) -- (2753,2604) -- (2753,2847) -- ([yshift=6.5pt]pushpos.west);
\draw[flow] (setext.south) -- (setaxis.north);
\draw[flow] (setaxis.east) -- (3048,2758.5) |- (duser.west);
\draw[flow] (duser.south) -- (usedef.north);
\draw[flow] (duser.east) -- (3219,2604) -- (3219,2811) -- (2913,2811) -- ([xshift=12.5pt]pushpos.north);
\draw[flow] (usedef.south) -- (3140,2790) -- (2886,2790) -- ([xshift=-14.5pt]pushpos.north);
\draw[flow] (ptvel.east) -- (3027,2698) -- (3027,2477) -- (2304,2477) -- ([xshift=-5pt]ptemp.south);
\draw[flow] ([xshift=-42.5pt]pushpos.south) -- (2858,2935) -- (dgdone.east);
\draw[flow] (dgdone.west) -- (adc.east |- dgdone.west);
\draw[flow] (dgdone.south) -- ([xshift=-5pt]turnoff.north);
\draw[flow] (dsafe.east) -- (2672,2367) -- (2674,3043) -- (2679,3229) -- (stopasap.north west);
\draw[flow] ([yshift=-10.5pt]turnoff.west) -- (2532,3094) -- (delapsed.north);
\draw[flow] ([xshift=-20pt]wait.south) -- (delapsed.north east);
\draw[flow] (delapsed.east) -- (2612,3239) -- (wait.south);
\draw[flow] (delapsed.south) -- (2532,3769) -- (2777,3769) -- (final.north);
\draw[flow] ([yshift=-14.5pt]sensinfo2.east) -- (2390,2689) -- (2390,2892) -- (penc.west);
\draw[flow] ([yshift=4.5pt]sensinfo2.east) -- (2376,2670) -- (2376,3000) -- (2503,3000) -- (pthc.south);
\draw[flow] ([xshift=67.5pt]adc.north) -- (2604,2854) -- (pushpos.west);
\draw[flow] (ppos.south) -- (2614,3000) -- (2656,3000) -- (2658,2556) -- (2428,2556) -- ([xshift=5.5pt]psensin.south);
\draw (ptpos.east) -- (3079,2852) -- (ctpos);
\draw[flow] (csi) -- (3286,2870) -- (3194,2870) -- (psi.north);
\draw (ppush.east) -- (2728,2773) -- (jpush);

% emergency interrupts
\draw[flow] ([yshift=19.5pt]prockb.west) -- (3046,2987) -- (dstop.north);
\draw[flow] ([yshift=6pt]procsens.west) -- (2940,3046) -- (dencop.north);
\draw[flow] ([xshift=-17pt]procsens.south) -- (dheatlim.north);
\draw[flow] ([yshift=-23pt]procsens.east) -- (3288,3075) -- (dendst.north);
\draw[flow] ([yshift=-15.5pt]prockb.east) -- (3418,3024) -- (dpauseopt.north);
\draw[flow] ([yshift=10.5pt]prockb.east) -- (3509,2998) -- (3509,3320) -- (3398,3320) -- (dcont.north);
\draw[flow] (dencop.south) |- (stopasap.west);
\draw[flow] (dstop.south) -- (3046,3207) -- (3125,3207) -- ([xshift=-17pt]stopasap.north);
\draw[flow] (dheatlim.south) -- (3148,3206) -- ([xshift=6pt]stopasap.north);
\draw[flow] (dendst.south) -- (3288,3206) -- (3266,3206) -- (3266,3285) -- ([yshift=15.5pt]stopasap.east);
\draw[flow] (dpauseopt.south) -- (3420,3300) -- (stopasap.east);
\draw[flow] (dcont.west) -- (3335,3394) -- (3335,3606) -- (2186,3606) -- ([xshift=-11.5pt]restT.south);
\draw[flow] (dcont.south) -- (3398,3557) -- (2219,3557) -- ([xshift=-26.5pt]restM.south);
\draw (dcont.east) -- (3650,3394);

% labels sitting on lines
\node[onl] (lset) at (210,215) {Settings button pressed};
\node[onl] (lprint) at (356,215) {Print current design?};
\node[onl] (lnew) at (506,225) {Chose new design};
\node[lbl] (lback1) at (644,173) {Go back? LVL 1};
\node[onl] (lnewmat) at (91,474) {new materials\\option pressed};
\node[onl] (lext) at (176,509) {External storage\\option pressed?};
\node[onl] (lback2) at (235,539) {Go back? LVL 2};
\node[onl] (lddefmat) at (471,1191) {default materials ==\\needed filaments};
\node[onl] (ldloaded) at (221,1548) {is there a loaded file in the system?};
\node[onl] (ldconfirm) at (788,1629) {Confirm print?};
\node[onl] (lcancel) at (334,3139) {Pressed "cancel print"};
\node[onl] (lpause) at (333,3203) {Pressed "pause print"};
\node[onl] (lno1) at (1648,1526) {No};
\node[onl] (lddesign) at (2328,164) {Does design require multiple filaments?};
\node[onl] (lyes1) at (2341,205) {Yes};
\node[onl] (ldselavail) at (2330,423) {Selected filaments available?};
\node[onl] (lno2) at (2474,411) {No};
\node[onl] (lyes2) at (2485,516) {Yes};
\node[onl] (ldstl) at (2854,161) {Is file in STL format?};
\node[onl] (ldencl) at (3370,585) {Is the enclosure open?};
\node[onl] (lheatno) at (3130,605) {No};
\node[onl] (lyes3) at (2754,779) {Yes};
\node[onl] (ldtchg) at (2995,1179) {Have the target temperatures changed?};
\node[onl] (ldtach) at (2995,1250) {Have the target temperatures been achieved?};
\node[onl] (ltpos) at (2591,1964) {Target position};
\node[onl] (ltvel1) at (2671,2001) {Target velocity};
\node[onl] (ltacc) at (2691,2038) {Target acceleration};
\node[onl] (lposerr) at (2748,2088) {Position error};
\node[onl] (lactpos) at (2597,2101) {Actual position};
\node[onl] (ltvel2) at (2561,2162) {Target velocity};
\node[onl] (ldposach) at (3292,2244) {Are the current set of\\positions achieved?};
\node[onl] (lno3) at (3084,2325) {No};
\node[onl] (lyes4) at (2872,2638) {Yes};
\node[onl] (lno4) at (2755,2701) {No};
\node[onl] (lduser) at (3137,2632) {user inputted values?};
\node[onl] (lyes5) at (3303,2663) {yes};
\node[onl] (ldgdone) at (2754,2963) {Is the G-code list completed?};
\node[onl] (lyes6) at (2675,3043) {Yes};
\node[onl] (ldelapsed) at (2529,3268) {has 1 min elapsed?};
\node[lbl] (lpthc) at (2496,2972) {Thermocouple values};
\node[onl] (lpkb) at (3335,2967) {Keyboard inpu};
\node[onl] (ldencop) at (2937,3135) {Enclosure open?};
\node[onl] (ldstop) at (3043,3135) {Stop option selected?};
\node[onl] (ldheatlim) at (3177,3180) {Heating modules\\exceed safety limits};
\node[onl] (ldendst) at (3286,3135) {Motor endstops activated};
\node[onl] (ldpause) at (3412,3175) {Pause option selected?};
\node[onl] (ldcont) at (3395,3423) {Continue print};
\end{tikzpicture}
\end{document}
